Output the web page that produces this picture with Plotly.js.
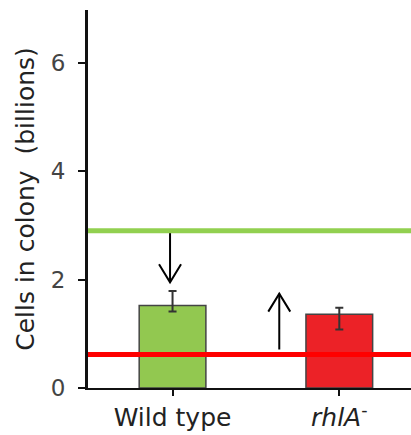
<!DOCTYPE html>
<html>
<head>
<meta charset="utf-8">
<script src="https://cdn.plot.ly/plotly-3.0.1.min.js"></script>
<style>html,body{margin:0;padding:0;background:#fff;}#chart{width:411px;height:435px;}</style>
</head>
<body>
<div id="chart"></div>
<script>
// Data
var categories = ["Wild type", "<i>rhlA</i><sup>-</sup>"];
var cellCounts = [1.52, 1.36];
var errPlus = [0.27, 0.12];
var errMinus = [0.11, 0.28];
var barColors = ["#92C850", "#EC2227"];
var refLevels = [2.9, 0.62];          // green & red reference lines
var refColors = ["#92D050", "#FF0000"];
var yTickVals = [0, 2, 4, 6];
// arrows: x position (category units), tail y, head y
var arrowX = [-0.015, 0.64];
var arrowTail = [2.9, 0.71];
var arrowHead = [1.95, 1.74];

var W = 411, H = 435;
var margin = {l: 88, r: 0, t: 10, b: 47};
var xRange = [-0.507, 1.43];
var yRange = [0, 6.97];
var pxPerX = (W - margin.l - margin.r) / (xRange[1] - xRange[0]);
var pxPerY = (H - margin.t - margin.b) / (yRange[1] - yRange[0]);
var headHalfW = 11, headLen = 18; // pixels (style)

var traces = [{
  type: "bar",
  x: [0, 1],
  y: cellCounts,
  width: 0.4,
  marker: {color: barColors, line: {color: "#444", width: 1.5}},
  error_y: {type: "data", symmetric: false, array: errPlus, arrayminus: errMinus,
            color: "#333", thickness: 2, width: 4},
  hoverinfo: "none"
}];

arrowX.forEach(function(x, i) {
  var dir = arrowHead[i] < arrowTail[i] ? 1 : -1; // legs go back toward tail
  var dx = headHalfW / pxPerX, dy = dir * headLen / pxPerY;
  traces.push({
    type: "scatter", mode: "lines",
    x: [x, x, null, x - dx, x, x + dx],
    y: [arrowTail[i], arrowHead[i], null, arrowHead[i] + dy, arrowHead[i], arrowHead[i] + dy],
    line: {color: "#000", width: 2},
    hoverinfo: "none", cliponaxis: false
  });
});

var shapes = refLevels.map(function(v, i) {
  return {type: "line", xref: "paper", yref: "y", x0: 0, x1: 1, y0: v, y1: v,
          line: {color: refColors[i], width: 5}, layer: "above"};
});

var layout = {
  width: W, height: H,
  margin: margin,
  paper_bgcolor: "#fff", plot_bgcolor: "#fff",
  showlegend: false,
  font: {family: "DejaVu Sans, sans-serif", color: "#333"},
  xaxis: {
    range: xRange,
    tickmode: "array", tickvals: [0, 1], ticktext: categories,
    tickson: "boundaries",
    ticks: "outside", ticklen: 6, tickwidth: 2, tickcolor: "#111",
    showline: true, linecolor: "#111", linewidth: 2,
    showgrid: false, zeroline: false,
    tickfont: {size: 25, color: "#222"}
  },
  yaxis: {
    range: yRange,
    tickmode: "array", tickvals: yTickVals,
    ticks: "outside", ticklen: 7, tickwidth: 2, tickcolor: "#111",
    ticklabelstandoff: 8,
    showline: true, linecolor: "#111", linewidth: 3,
    showgrid: false, zeroline: false,
    tickfont: {size: 23, color: "#444"},
    title: {text: "Cells in colony  (billions)", font: {size: 25, color: "#222"}, standoff: 10}
  },
  shapes: shapes
};

Plotly.newPlot("chart", traces, layout, {displayModeBar: false, staticPlot: true});
</script>
</body>
</html>
